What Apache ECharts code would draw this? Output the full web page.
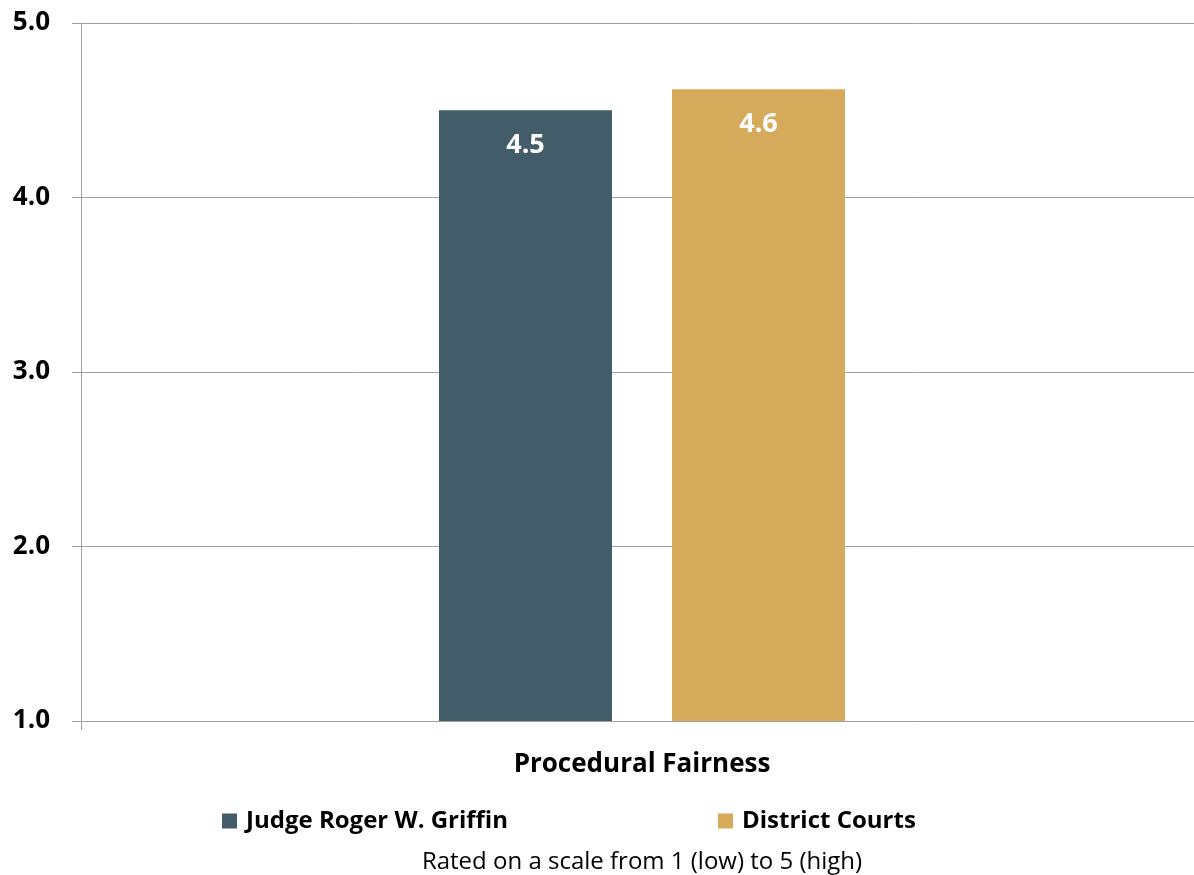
<!DOCTYPE html>
<html>
<head>
<meta charset="utf-8">
<script src="https://cdn.jsdelivr.net/npm/echarts@6/dist/echarts.min.js"></script>
<style>
  html, body { margin: 0; padding: 0; background: #fff; }
  #chart { width: 1194px; height: 875px; }
</style>
</head>
<body>
<div id="chart"></div>
<script>
// data
const categories = ["Procedural Fairness"];
const seriesNames = ["Judge Roger W. Griffin", "District Courts"];
const judgeValues = [4.5];
const districtValues = [4.62];
const colors = ["#425c69", "#d5ab5b"];
const note = "Rated on a scale from 1 (low) to 5 (high)";

const font = "'Open Sans', sans-serif";
const chart = echarts.init(document.getElementById("chart"));

const barLabel = {
  show: true,
  position: "insideTop",
  distance: 22,
  color: "#fff",
  fontFamily: font,
  fontWeight: "bold",
  fontSize: 27,
  formatter: (p) => p.value.toFixed(1),
};

chart.setOption({
  animation: false,
  title: {
    text: note,
    left: 637,
    textAlign: "center",
    top: 845,
    textStyle: { fontFamily: font, fontWeight: "normal", fontSize: 24, color: "#000" },
  },
  legend: {
    data: seriesNames,
    left: 222,
    top: 809,
    padding: 0,
    itemWidth: 15,
    itemHeight: 15,
    itemGap: 210,
    icon: "rect",
    textStyle: {
      fontFamily: font, fontWeight: "bold", fontSize: 24, color: "#000",
      padding: [0, 0, 0, 4],
    },
  },
  // plot box runs a little past the right edge so the category centre sits at x=642
  grid: { left: 81, right: -9, top: 23, bottom: 154, outerBoundsMode: "none" },
  xAxis: {
    type: "category",
    data: categories,
    axisLine: { lineStyle: { color: "#a0a0a0", width: 1 } },
    axisTick: { show: true, length: 9, lineStyle: { color: "#a0a0a0" } },
    axisLabel: {
      margin: 31,
      color: "#000",
      fontFamily: font,
      fontWeight: "bold",
      fontSize: 26,
    },
  },
  yAxis: {
    type: "value",
    min: 1,
    max: 5,
    interval: 1,
    axisLine: { show: true, lineStyle: { color: "#a0a0a0", width: 1 } },
    axisTick: { show: true, length: 9, lineStyle: { color: "#a0a0a0" } },
    axisLabel: {
      margin: 31,
      color: "#000",
      fontFamily: font,
      fontWeight: "bold",
      fontSize: 26,
      formatter: (v) => v.toFixed(1),
    },
    splitLine: { lineStyle: { color: "#a0a0a0", width: 1 } },
  },
  series: [
    {
      name: seriesNames[0],
      type: "bar",
      data: judgeValues,
      barWidth: 173,
      barGap: "34.7%",
      itemStyle: { color: colors[0] },
      label: barLabel,
    },
    {
      name: seriesNames[1],
      type: "bar",
      data: districtValues,
      barWidth: 173,
      itemStyle: { color: colors[1] },
      label: barLabel,
    },
  ],
});
</script>
</body>
</html>
